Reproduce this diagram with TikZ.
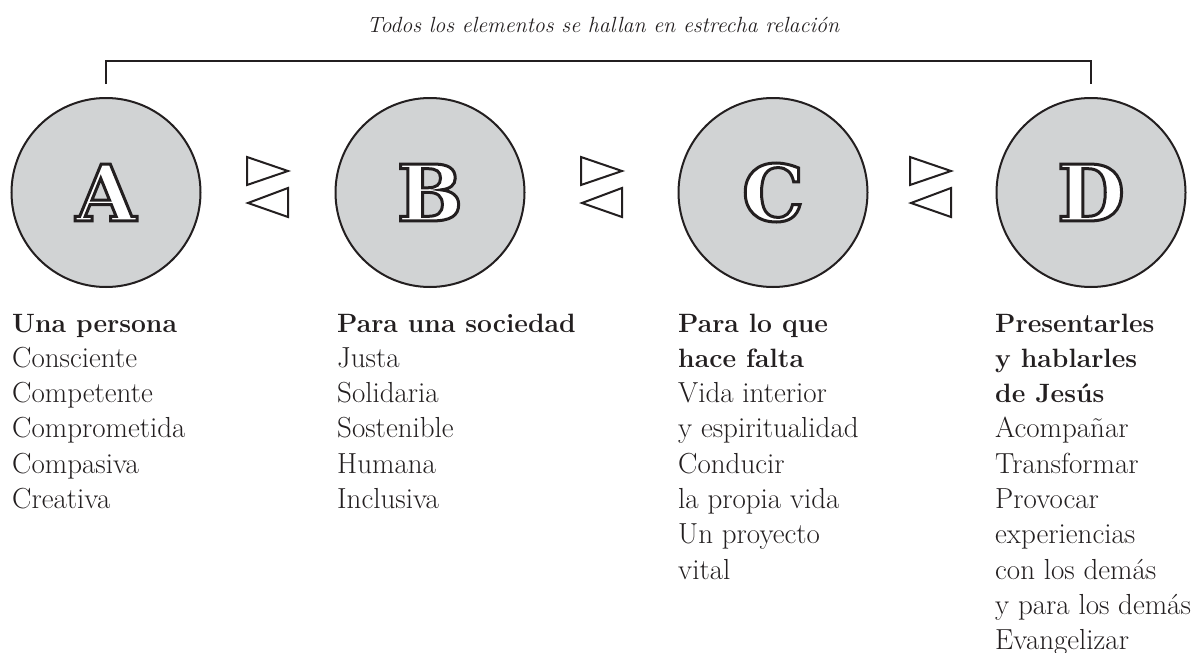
\documentclass[tikz,border=0pt]{standalone}
\usepackage{fontspec}
\usetikzlibrary{calc}
\newfontfamily\letterfont{DejaVu Serif Bold}
\definecolor{circgray}{HTML}{D1D3D4}
\definecolor{ink}{HTML}{231F20}
\newcommand\outlinedletter[1]{\special{pdf:literal direct 0.137 0.122 0.125 RG 3 w 2 Tr}#1\special{pdf:literal direct 0 Tr}}
\begin{document}
\begin{tikzpicture}[x=1pt,y=-1pt,
  circ/.style={circle, draw=ink, line width=2pt, fill=circgray, minimum size=189pt, inner sep=0pt},
  letter/.style={font={\letterfont\fontsize{78}{78}\selectfont}, text=white, inner sep=0pt},
  tri/.style={draw=ink, line width=2pt, fill=white, line join=miter},
  bracket/.style={draw=ink, line width=2.4pt},
  hd/.style={font=\bfseries\fontsize{26.5}{30}\selectfont, text=ink, inner sep=0pt},
  it/.style={font=\fontsize{29}{32}\selectfont, text=ink, inner sep=0pt},
  titlestyle/.style={font=\itshape\fontsize{22}{24}\selectfont, text=ink, inner sep=0pt}]
\useasboundingbox (0,0) rectangle (1194,653);

% title
\node[titlestyle, anchor=base] (title) at (603,32) {Todos los elementos se hallan en estrecha relación};

% circles
\node[circ] (A) at (106,192.5) {};
\node[circ] (B) at (430,192.5) {};
\node[circ] (C) at (773,192.5) {};
\node[circ] (D) at (1091,192.5) {};
\node[letter] (LA) at (A.center) {\outlinedletter{A}};
\node[letter] (LB) at (B.center) {\outlinedletter{B}};
\node[letter] (LC) at (C.center) {\outlinedletter{C}};
\node[letter] (LD) at (D.center) {\outlinedletter{D}};

% bracket
\draw[bracket] ([yshift=13pt]A.north) -- ++(0,-23) -| ([yshift=13pt]D.north);

% triangles
\foreach \n/\cx in {t1/268, t2/602, t3/931}{
  \coordinate (\n) at (\cx,187);
  \draw[tri] ($(\n)+(-21,-30)$) -- ($(\n)+(-21,-2)$) -- ($(\n)+(20,-16)$) -- cycle;
  \draw[tri] ($(\n)+(20,1)$) -- ($(\n)+(20,30)$) -- ($(\n)+(-20,16)$) -- cycle;
}

% text columns
\foreach \st/\tx [count=\i] in {hd/Una persona, it/Consciente, it/Competente, it/Comprometida, it/Compasiva, it/Creativa}
  \node[\st, anchor=base west] (a\i) at (12,{332+35.3*(\i-1)}) {\tx};
\foreach \st/\tx [count=\i] in {hd/Para una sociedad, it/Justa, it/Solidaria, it/Sostenible, it/Humana, it/Inclusiva}
  \node[\st, anchor=base west] (b\i) at (337,{332+35.3*(\i-1)}) {\tx};
\foreach \st/\tx [count=\i] in {hd/Para lo que, hd/hace falta, it/Vida interior, it/y espiritualidad, it/Conducir, it/la propia vida, it/Un proyecto, it/vital}
  \node[\st, anchor=base west] (c\i) at (678,{332+35.3*(\i-1)}) {\tx};
\foreach \st/\tx [count=\i] in {hd/Presentarles, hd/y hablarles, hd/de Jesús, it/Acompañar, it/Transformar, it/Provocar, it/experiencias, it/con los demás, it/y para los demás, it/Evangelizar}
  \node[\st, anchor=base west] (d\i) at (995,{332+35.3*(\i-1)}) {\tx};
\end{tikzpicture}
\end{document}
